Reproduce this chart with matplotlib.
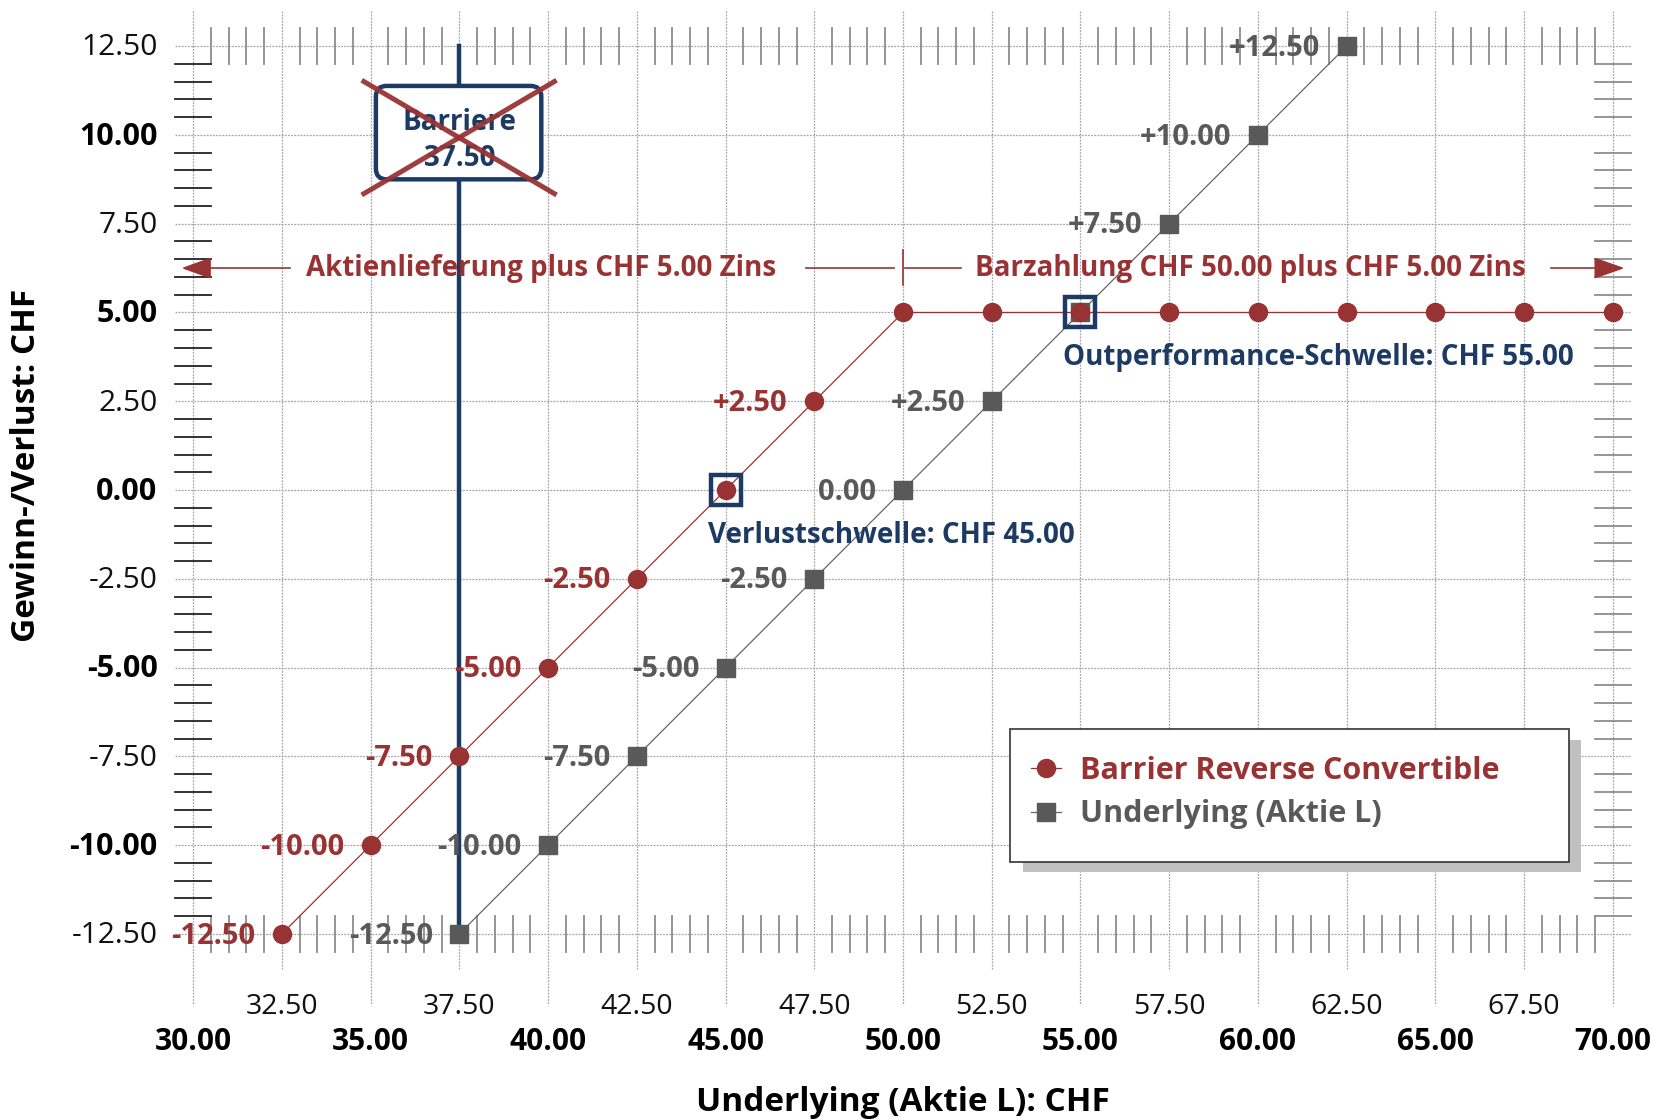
import numpy as np
import matplotlib.pyplot as plt
from matplotlib.patches import Rectangle, FancyBboxPatch, Polygon
from matplotlib.font_manager import FontProperties

plt.rcParams['font.family'] = ['Open Sans', 'DejaVu Sans']

# payoff at maturity
brc_x = [32.5, 35.0, 37.5, 40.0, 42.5, 45.0, 47.5, 50.0, 52.5, 55.0, 57.5, 60.0, 62.5, 65.0, 67.5, 70.0]
brc_y = [-12.5, -10.0, -7.5, -5.0, -2.5, 0.0, 2.5, 5.0, 5.0, 5.0, 5.0, 5.0, 5.0, 5.0, 5.0, 5.0]
brc_labelled = [1, 1, 1, 1, 1, 0, 1, 0, 0, 0, 0, 0, 0, 0, 0, 0]

und_x = [37.5, 40.0, 42.5, 45.0, 47.5, 50.0, 52.5, 55.0, 57.5, 60.0, 62.5]
und_y = [-12.5, -10.0, -7.5, -5.0, -2.5, 0.0, 2.5, 5.0, 7.5, 10.0, 12.5]
und_labelled = [1, 1, 1, 1, 1, 1, 1, 0, 1, 1, 1]

x_ticks = np.arange(30.0, 70.01, 2.5)
y_ticks = np.arange(-12.5, 12.51, 2.5)

barrier = 37.5
loss_threshold = (45.0, 0.0)
outperf_threshold = (55.0, 5.0)

RED = '#993333'
GREY = '#595959'
NAVY = '#1c3a63'
GRID = '#a6a6a6'

fig = plt.figure(figsize=(16.53, 11.2), dpi=100)
ax = fig.add_axes([0, 0, 1, 1])
ax.set_xlim(24.56, 71.13)
ax.set_ylim(-17.74, 13.80)
ax.axis('off')

xmin, xmax = x_ticks[0], x_ticks[-1]
ymin, ymax = y_ticks[0], y_ticks[-1]

# grid
for x in x_ticks:
    bottom = ymin - (2.0 if x % 5 == 0 else 1.0)
    ax.plot([x, x], [ymax + 1.0, bottom], color=GRID, lw=0.9, ls=(0, (1.5, 1)), zorder=1)
for y in y_ticks:
    ax.plot([xmin - 0.5, xmax + 0.5], [y, y], color=GRID, lw=0.9, ls=(0, (1.5, 1)), zorder=1)

# frame ticks every 0.50
for x in np.arange(xmin + 0.5, xmax, 0.5):
    if np.isclose(x % 2.5, 0):
        continue
    for y in (ymin, ymax):
        ax.plot([x, x], [y - 0.5, y + 0.5], color='#8c8c8c', lw=1.3, zorder=1.5)
for y in np.arange(ymin + 0.5, ymax, 0.5):
    if np.isclose(y % 2.5, 0):
        continue
    ax.plot([xmin - 0.5, xmin + 0.5], [y, y], color='#222222', lw=1.3, zorder=1.5)
    ax.plot([xmax - 0.5, xmax + 0.5], [y, y], color='#8c8c8c', lw=1.3, zorder=1.5)

# tick labels
for x in x_ticks:
    if x % 5 == 0:
        ax.text(x, -15.55, f'{x:.2f}', ha='center', va='center', fontsize=21.5,
                fontweight='bold', color='black')
    else:
        ax.text(x, -14.55, f'{x:.2f}', ha='center', va='center', fontsize=20.5,
                color='#111111')
for y in y_ticks:
    bold = y % 5 == 0
    ax.text(29.0, y - 0.05, f'{y:.2f}', ha='right', va='center',
            fontsize=22 if bold else 21.5,
            fontweight='bold' if bold else 'normal', color='black' if bold else '#111111')

ax.text(50.0, -17.25, 'Underlying (Aktie L): CHF', ha='center', va='center',
        fontsize=24, fontweight='bold')
ax.text(25.3, 0.7, 'Gewinn-/Verlust: CHF', ha='center', va='center', rotation=90,
        fontsize=24, fontweight='bold')

# barrier
ax.plot([barrier, barrier], [ymax, ymin], color=NAVY, lw=3.2, zorder=2)

# series
und_line, = ax.plot(und_x, und_y, color='#666666', lw=0.9, marker='s', ms=13.5,
                    mfc=GREY, mec=GREY, zorder=3, label='Underlying (Aktie L)')
brc_line, = ax.plot(brc_x, brc_y, color=RED, lw=0.9, marker='o', ms=13,
                    mfc=RED, mec=RED, zorder=4, label='Barrier Reverse Convertible')


def fmt(v):
    return '0.00' if v == 0 else f'{v:+.2f}'


for x, y, show in zip(brc_x, brc_y, brc_labelled):
    if show:
        ax.annotate(fmt(y), (x, y), xytext=(-19, -1.5), textcoords='offset points',
                    ha='right', va='center', fontsize=21, fontweight='bold', color=RED, zorder=8)
for x, y, show in zip(und_x, und_y, und_labelled):
    if show:
        ax.annotate(fmt(y), (x, y), xytext=(-19, -1.5), textcoords='offset points',
                    ha='right', va='center', fontsize=21, fontweight='bold', color=GREY, zorder=8)

# thresholds
for (tx, ty) in (loss_threshold, outperf_threshold):
    ax.plot(tx, ty, marker='s', ms=22, mfc='none', mec=NAVY, mew=3.2, zorder=5)
ax.text(44.5, -1.27, f'Verlustschwelle: CHF {loss_threshold[0]:.2f}', ha='left', va='center',
        fontsize=20, fontweight='bold', color=NAVY, zorder=8)
ax.text(54.5, 3.72, f'Outperformance-Schwelle: CHF {outperf_threshold[0]:.2f}', ha='left',
        va='center', fontsize=20, fontweight='bold', color=NAVY, zorder=8)

# payout regimes
ya = 6.25
ax.add_patch(Polygon([[29.73, ya], [30.48, ya + 0.27], [30.48, ya - 0.27]], closed=True,
                     color=RED, zorder=3))
ax.add_patch(Polygon([[70.27, ya], [69.5, ya + 0.27], [69.5, ya - 0.27]], closed=True,
                     color=RED, zorder=3))
for x0, x1 in ((30.4, 32.73), (47.28, 49.75), (50.05, 51.64), (68.25, 69.6)):
    ax.plot([x0, x1], [ya, ya], color=RED, lw=1.2, zorder=3)
ax.plot([50.0, 50.0], [6.75, 5.78], color=RED, lw=1.2, zorder=3)
ax.text(39.8, ya, 'Aktienlieferung plus CHF 5.00 Zins', ha='center', va='center',
        fontsize=20, fontweight='bold', color=RED, zorder=3)
ax.text(59.8, ya, 'Barzahlung CHF 50.00 plus CHF 5.00 Zins', ha='center', va='center',
        fontsize=20, fontweight='bold', color=RED, zorder=3)

# barrier sign, crossed out
ax.add_patch(FancyBboxPatch((35.45, 9.05), 4.06, 2.03, boxstyle='round,pad=0.3,rounding_size=0.3',
                            fc='white', ec=NAVY, lw=3.2, zorder=6))
ax.text(barrier, 9.85, f'Barriere\n{barrier:.2f}', ha='center', va='center', fontsize=20,
        fontweight='bold', color=NAVY, linespacing=1.3, zorder=7)
ax.plot([34.75, 40.24], [11.54, 8.31], color=RED, lw=3.6, alpha=0.95, zorder=7.5,
        solid_capstyle='butt')
ax.plot([34.75, 40.24], [8.31, 11.54], color=RED, lw=3.6, alpha=0.95, zorder=7.5,
        solid_capstyle='butt')

# legend box with drop shadow
ax.add_patch(Rectangle((53.37, -10.77), 15.74, 3.74, fc='#c0c0c0', ec='none', zorder=8.5))
ax.add_patch(Rectangle((53.01, -10.47), 15.74, 3.74, fc='white', ec='#333333', lw=1.2, zorder=9))
leg = ax.legend(handles=[brc_line, und_line], loc='upper left', bbox_to_anchor=(53.6, -7.48),
                bbox_transform=ax.transData, frameon=False,
                prop=FontProperties(family=['Open Sans', 'DejaVu Sans'], weight='bold', size=22),
                labelcolor=[RED, GREY], handlelength=1.0, handletextpad=0.6,
                labelspacing=0.45, borderpad=0, borderaxespad=0)
leg.set_zorder(10)

fig.savefig('out.png', dpi=100)
